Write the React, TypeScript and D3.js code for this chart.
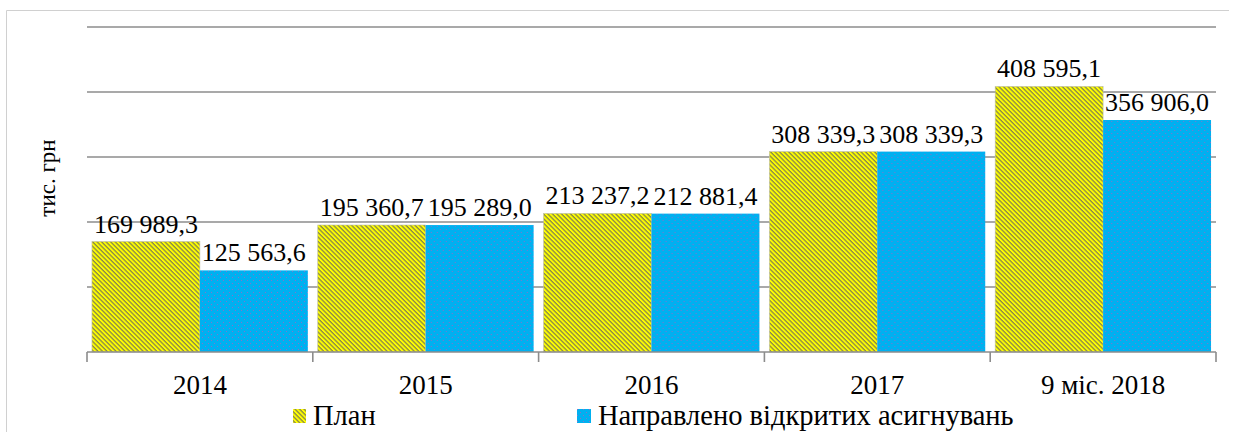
import * as d3 from 'd3';
import React from 'react';

const categories = ['2014', '2015', '2016', '2017', '9 міс. 2018'];
const planValues = [169989.3, 195360.7, 213237.2, 308339.3, 408595.1];
const fundedValues = [125563.6, 195289.0, 212881.4, 308339.3, 356906.0];
const seriesNames = ['План', 'Направлено відкритих асигнувань'];
const yTicks = [0, 100000, 200000, 300000, 400000, 500000];

const W = 1236;
const H = 432;
const margin = { top: 27, right: 20, bottom: 80, left: 87 };
const FONT = '"Liberation Serif", "Times New Roman", serif';

const uaFormat = d3.formatLocale({ decimal: ',', thousands: '\u00a0', grouping: [3], currency: ['', ''] }).format(',.1f');

export default function App() {
  const x = d3
    .scaleBand<string>()
    .domain(categories)
    .range([margin.left, W - margin.right]);
  const inner = d3
    .scaleBand<string>()
    .domain(['plan', 'funded'])
    .range([0, x.bandwidth()])
    .paddingInner(0)
    .paddingOuter(0.046);
  const y = d3
    .scaleLinear()
    .domain([0, 500000])
    .range([H - margin.bottom, margin.top]);

  const rows = categories.map((c, i) => ({ c, plan: planValues[i], funded: fundedValues[i] }));
  const baseY = y(0);

  return (
    <svg width={W} height={H} style={{ position: 'absolute', left: 0, top: 0, background: '#fff', fontFamily: FONT }}>
      <defs>
        <pattern id="hatch" width="3.2" height="3.2" patternUnits="userSpaceOnUse" patternTransform="rotate(45)">
          <rect width="3.2" height="3.2" fill="#ffff00" />
          <rect width="3.2" height="1.3" fill="#86864a" />
        </pattern>
        <pattern id="dots" width="6" height="6" patternUnits="userSpaceOnUse">
          <rect width="6" height="6" fill="#00b0f0" />
          <rect x="1" y="1" width="1" height="1" fill="#8a70c8" />
          <rect x="4" y="4" width="1" height="1" fill="#8a70c8" />
        </pattern>
      </defs>

      {/* outer frame */}
      <path d={`M6.5,${H} V10.5 H1229`} fill="none" stroke="#d0d0d0" strokeWidth={1} />

      {/* gridlines */}
      {yTicks.filter((t) => t > 0).map((t) => (
        <line key={t} x1={margin.left} x2={W - margin.right} y1={y(t)} y2={y(t)} stroke="#8c8c8c" strokeWidth={1.6} />
      ))}

      {/* bars */}
      {rows.map((r) => (
        <g key={r.c} transform={`translate(${x(r.c)},0)`}>
          <rect x={inner('plan')} y={y(r.plan)} width={inner.bandwidth()} height={baseY - y(r.plan)} fill="url(#hatch)" stroke="#c0c0a8" strokeWidth={0.6} />
          <rect x={inner('funded')} y={y(r.funded)} width={inner.bandwidth()} height={baseY - y(r.funded)} fill="url(#dots)" />
        </g>
      ))}

      {/* baseline + category ticks */}
      <line x1={margin.left} x2={W - margin.right} y1={baseY} y2={baseY} stroke="#8c8c8c" strokeWidth={1.6} />
      {[...categories.map((c) => x(c) as number), W - margin.right].map((px, i) => (
        <line key={i} x1={px} x2={px} y1={baseY} y2={baseY + 10} stroke="#8c8c8c" strokeWidth={1.6} />
      ))}

      {/* data labels */}
      {rows.map((r) => (
        <g key={r.c + 'l'} transform={`translate(${x(r.c)},0)`} fontSize={26} fontFamily={FONT} fill="#000" textAnchor="middle">
          <text x={(inner('plan') as number) + inner.bandwidth() / 2} y={y(r.plan) - 9}>{uaFormat(r.plan)}</text>
          <text x={(inner('funded') as number) + inner.bandwidth() / 2} y={y(r.funded) - 9}>{uaFormat(r.funded)}</text>
        </g>
      ))}

      {/* category labels */}
      {categories.map((c) => (
        <text key={c} x={(x(c) as number) + x.bandwidth() / 2} y={394} textAnchor="middle" fontSize={27} fontFamily={FONT}>{c}</text>
      ))}

      {/* y axis title */}
      <text transform={`translate(55,178) rotate(-90)`} textAnchor="middle" fontSize={23} fontFamily={FONT}>тис. грн</text>

      {/* legend */}
      <g fontSize={28.5} fontFamily={FONT}>
        <rect x={293} y={409} width={13} height={14} fill="url(#hatch)" />
        <text x={313} y={425}>{seriesNames[0]}</text>
        <rect x={577} y={409} width={14} height={14} fill="url(#dots)" />
        <text x={598} y={425}>{seriesNames[1]}</text>
      </g>
    </svg>
  );
}
